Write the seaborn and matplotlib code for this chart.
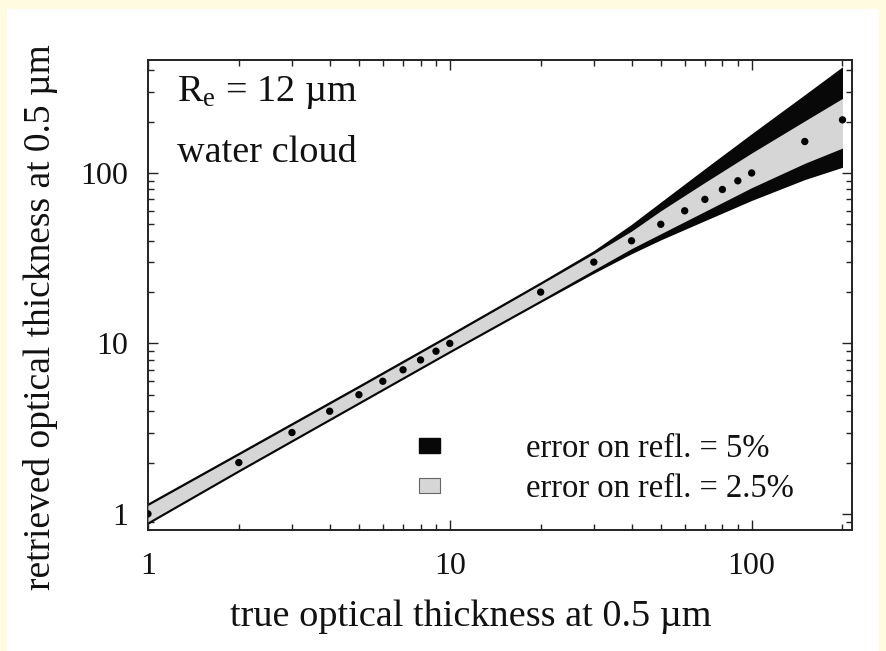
import numpy as np
import pandas as pd
import seaborn as sns
import matplotlib
matplotlib.use("Agg")
import matplotlib.pyplot as plt
from matplotlib.patches import Patch, Rectangle
from matplotlib.ticker import LogLocator, FixedLocator, FixedFormatter, NullFormatter

# ---- data ----
tau_true = [1, 2, 3, 4, 5, 6, 7, 8, 9, 10, 20, 30, 40, 50, 60, 70, 80, 90, 100, 150, 200]
tau_retrieved = [1, 2, 3, 4, 5, 6, 7, 8, 9, 10, 20, 30, 40, 50, 60, 70, 80, 90, 100, 153, 205]

tau_band = [1, 2, 5, 10, 20, 30, 40, 50, 70, 100, 150, 200]
upper_5 = [1.16, 2.30, 5.7, 11.4, 23.0, 35.1, 50, 67.5, 106, 170, 288, 420]
upper_25 = [1.12, 2.22, 5.5, 11.0, 22.2, 33.6, 45.6, 60, 88, 131, 202, 274]
lower_25 = [0.90, 1.82, 4.55, 9.1, 18.0, 27.0, 36, 44, 59.5, 82, 114, 140]
lower_5 = [0.87, 1.76, 4.4, 8.8, 17.4, 25.8, 33.6, 40.5, 52.5, 69, 91.5, 108]

tick_values = [1, 10, 100]
tick_labels = ["1", "10", "100"]
legend_labels = ["error on refl. = 5%", "error on refl. = 2.5%"]

points = pd.DataFrame({"true": tau_true, "retrieved": tau_retrieved})
band = pd.DataFrame({"tau": tau_band, "up5": upper_5, "lo5": lower_5,
                     "up25": upper_25, "lo25": lower_25})

# ---- style ----
sns.set_style("ticks")
plt.rcParams["font.family"] = ["Liberation Serif", "DejaVu Serif"]
plt.rcParams["mathtext.fontset"] = "custom"
plt.rcParams["mathtext.rm"] = "Liberation Serif"
plt.rcParams["mathtext.it"] = "Liberation Serif:italic"

fig = plt.figure(figsize=(8.86, 6.51), dpi=100, facecolor="#fffbe0")
fig.patches.append(Rectangle((0.008, 0.0), 0.984, 0.986, transform=fig.transFigure,
                             facecolor="white", edgecolor="none", zorder=-10))
ax = fig.add_axes([0.167, 0.186, 0.7946, 0.7218])
ax.set_facecolor("white")

ax.set_xscale("log")
ax.set_yscale("log")

ax.fill_between(band["tau"], band["lo5"], band["up5"], color="#080808", lw=0, zorder=2)
ax.fill_between(band["tau"], band["lo25"], band["up25"], color="#d6d6d6", lw=0, zorder=3)

sns.scatterplot(data=points, x="true", y="retrieved", ax=ax, color="black",
                s=28, edgecolor="none", zorder=5, legend=False)

ax.set_xlim(1, 215)
ax.set_ylim(0.805, 460)

ax.xaxis.set_major_locator(FixedLocator(tick_values))
ax.xaxis.set_major_formatter(FixedFormatter(tick_labels))
ax.yaxis.set_major_locator(FixedLocator(tick_values))
ax.yaxis.set_major_formatter(FixedFormatter(tick_labels))
ax.xaxis.set_minor_locator(LogLocator(base=10, subs=np.arange(2, 10)))
ax.yaxis.set_minor_locator(LogLocator(base=10, subs=np.arange(2, 10)))
ax.xaxis.set_minor_formatter(NullFormatter())
ax.yaxis.set_minor_formatter(NullFormatter())

ax.tick_params(which="both", direction="in", top=True, right=True, colors="#222222",
               width=1.0)
ax.tick_params(which="major", length=7, labelsize=23, labelcolor="#111111")
ax.tick_params(which="minor", length=4)
ax.tick_params(axis="y", which="major", pad=14)
ax.tick_params(axis="x", which="major", pad=16)
for sp in ax.spines.values():
    sp.set_linewidth(1.4)
    sp.set_color("#222222")

ax.set_xlabel("true optical thickness at 0.5 µm", fontsize=27.5, color="#111111")
ax.set_ylabel("retrieved optical thickness at 0.5 µm", fontsize=27, color="#111111")
ax.xaxis.set_label_coords(0.459, -0.148)
ax.yaxis.set_label_coords(-0.128, 0.453)

ax.text(0.041, 0.912, r"R$_{\mathrm{e}}$ = 12 µm", transform=ax.transAxes,
        fontsize=27.5, color="#111111", va="baseline")
ax.text(0.041, 0.782, "water cloud", transform=ax.transAxes,
        fontsize=27.5, color="#111111", va="baseline")

handles = [Patch(facecolor="#080808", edgecolor="#080808"),
           Patch(facecolor="#d6d6d6", edgecolor="#666666", lw=0.8)]
leg = ax.legend(handles, legend_labels, loc="center left", bbox_to_anchor=(0.385, 0.13),
                frameon=False, fontsize=23.5, handlelength=0.64, handleheight=0.32,
                handletextpad=2.65, labelspacing=0.3, borderpad=0, borderaxespad=0)
for t in leg.get_texts():
    t.set_color("#111111")

fig.savefig("out.png", dpi=100, facecolor=fig.get_facecolor())
